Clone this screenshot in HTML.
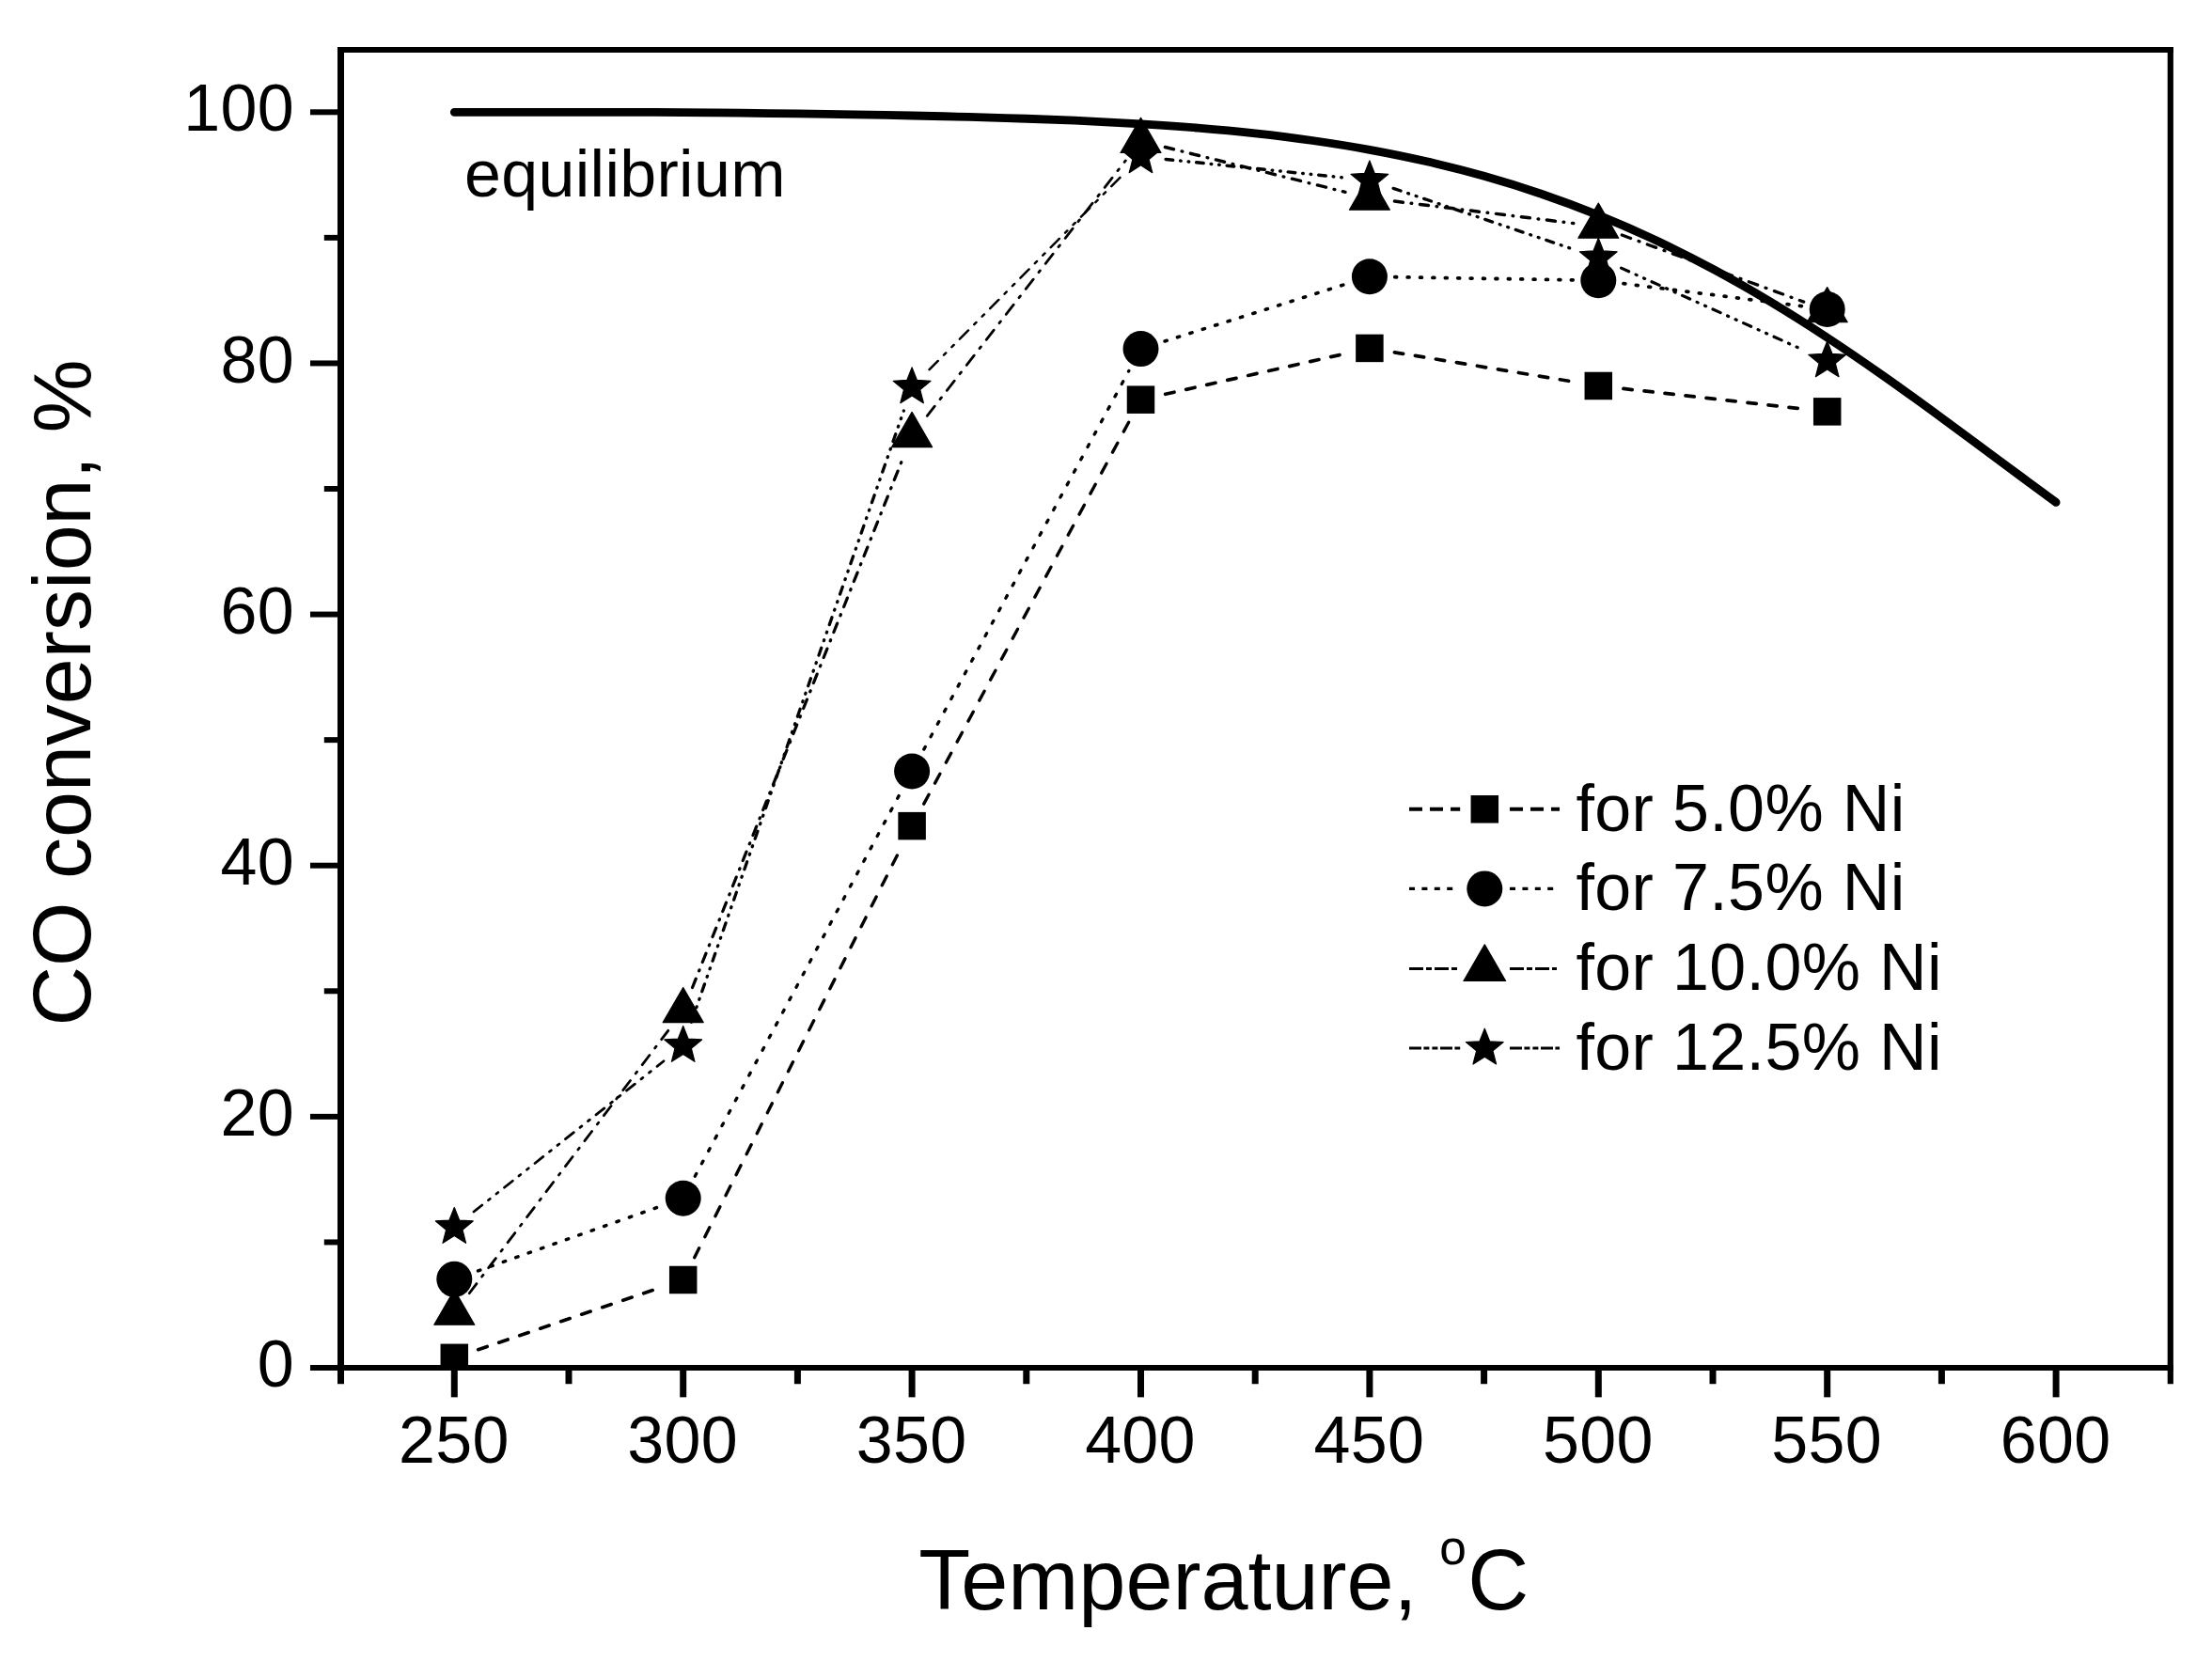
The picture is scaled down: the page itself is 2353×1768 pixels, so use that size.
<!DOCTYPE html>
<html lang="en"><head><meta charset="utf-8"><title>CO conversion vs temperature</title>
<style>html,body{margin:0;padding:0;background:#fff;}body{width:2353px;height:1768px;overflow:hidden;}svg{display:block;}text{font-family:'Liberation Sans', sans-serif;fill:#000;}.m{stroke:#000;stroke-width:1.2px;stroke-linejoin:round;}</style></head><body>
<svg width="2353" height="1768" viewBox="0 0 2353 1768">
<rect width="2353" height="1768" fill="#fff"/>
<defs><clipPath id="plot"><rect x="362.5" y="52.95" width="1946.3" height="1405.1"/></clipPath></defs>
<g fill="none" stroke="#000" stroke-linecap="butt">
<line x1="359" y1="52.95" x2="2311.9" y2="52.95" stroke-width="6.1"/>
<line x1="359" y1="1455" x2="2311.9" y2="1455" stroke-width="6.1"/>
<line x1="362.5" y1="49.9" x2="362.5" y2="1458.05" stroke-width="7"/>
<line x1="2308.8" y1="49.9" x2="2308.8" y2="1458.05" stroke-width="6.2"/>
</g>
<g stroke="#000" stroke-linecap="butt" fill="none">
<line x1="330" y1="1455" x2="360" y2="1455" stroke-width="6"/>
<line x1="344.8" y1="1321.43" x2="360" y2="1321.43" stroke-width="6"/>
<line x1="330" y1="1187.86" x2="360" y2="1187.86" stroke-width="6"/>
<line x1="344.8" y1="1054.29" x2="360" y2="1054.29" stroke-width="6"/>
<line x1="330" y1="920.72" x2="360" y2="920.72" stroke-width="6"/>
<line x1="344.8" y1="787.15" x2="360" y2="787.15" stroke-width="6"/>
<line x1="330" y1="653.58" x2="360" y2="653.58" stroke-width="6"/>
<line x1="344.8" y1="520.01" x2="360" y2="520.01" stroke-width="6"/>
<line x1="330" y1="386.44" x2="360" y2="386.44" stroke-width="6"/>
<line x1="344.8" y1="252.87" x2="360" y2="252.87" stroke-width="6"/>
<line x1="330" y1="119.3" x2="360" y2="119.3" stroke-width="6"/>
<line x1="362.5" y1="1457.05" x2="362.5" y2="1472.25" stroke-width="7"/>
<line x1="483.3" y1="1457.05" x2="483.3" y2="1486.35" stroke-width="7"/>
<line x1="605" y1="1457.05" x2="605" y2="1472.25" stroke-width="7"/>
<line x1="726.7" y1="1457.05" x2="726.7" y2="1486.35" stroke-width="7"/>
<line x1="848.4" y1="1457.05" x2="848.4" y2="1472.25" stroke-width="7"/>
<line x1="970.1" y1="1457.05" x2="970.1" y2="1486.35" stroke-width="7"/>
<line x1="1091.8" y1="1457.05" x2="1091.8" y2="1472.25" stroke-width="7"/>
<line x1="1213.5" y1="1457.05" x2="1213.5" y2="1486.35" stroke-width="7"/>
<line x1="1335.2" y1="1457.05" x2="1335.2" y2="1472.25" stroke-width="7"/>
<line x1="1456.9" y1="1457.05" x2="1456.9" y2="1486.35" stroke-width="7"/>
<line x1="1578.6" y1="1457.05" x2="1578.6" y2="1472.25" stroke-width="7"/>
<line x1="1700.3" y1="1457.05" x2="1700.3" y2="1486.35" stroke-width="7"/>
<line x1="1822" y1="1457.05" x2="1822" y2="1472.25" stroke-width="7"/>
<line x1="1943.7" y1="1457.05" x2="1943.7" y2="1486.35" stroke-width="7"/>
<line x1="2065.4" y1="1457.05" x2="2065.4" y2="1472.25" stroke-width="7"/>
<line x1="2187.1" y1="1457.05" x2="2187.1" y2="1486.35" stroke-width="7"/>
<line x1="2308.8" y1="1457.05" x2="2308.8" y2="1472.25" stroke-width="6.2"/>
</g>
<g font-size="70" letter-spacing="0.3">
<text x="313" y="1475.1" text-anchor="end">0</text>
<text x="313" y="1207.96" text-anchor="end">20</text>
<text x="313" y="940.82" text-anchor="end">40</text>
<text x="313" y="673.68" text-anchor="end">60</text>
<text x="313" y="406.54" text-anchor="end">80</text>
<text x="313" y="139.4" text-anchor="end">100</text>
<text x="482.8" y="1555.8" text-anchor="middle">250</text>
<text x="726.2" y="1555.8" text-anchor="middle">300</text>
<text x="969.6" y="1555.8" text-anchor="middle">350</text>
<text x="1213" y="1555.8" text-anchor="middle">400</text>
<text x="1456.4" y="1555.8" text-anchor="middle">450</text>
<text x="1699.8" y="1555.8" text-anchor="middle">500</text>
<text x="1943.2" y="1555.8" text-anchor="middle">550</text>
<text x="2186.6" y="1555.8" text-anchor="middle">600</text>
</g>
<text font-size="90" x="977.3" y="1712.3">Temperature,</text>
<text font-size="51.5" x="1531.2" y="1663.5">o</text>
<text font-size="90" x="1561.2" y="1712.3">C</text>
<text font-size="88" transform="translate(95.8 1091.5) rotate(-90)">CO conversion, %</text>
<path d="M483.3 119.34 C493.44 119.33 523.87 119.31 544.15 119.3 C564.43 119.29 584.72 119.3 605 119.3 C625.28 119.3 645.57 119.26 665.85 119.3 C686.13 119.34 706.42 119.42 726.7 119.56 C746.98 119.7 767.27 119.93 787.55 120.15 C807.83 120.38 828.12 120.64 848.4 120.92 C868.68 121.21 888.97 121.52 909.25 121.87 C929.53 122.21 949.82 122.58 970.1 123.01 C990.38 123.44 1010.67 123.89 1030.95 124.42 C1051.23 124.96 1071.52 125.54 1091.8 126.24 C1112.08 126.94 1132.37 127.69 1152.65 128.62 C1172.93 129.56 1193.22 130.58 1213.5 131.83 C1233.78 133.08 1254.07 134.46 1274.35 136.14 C1294.63 137.82 1314.92 139.68 1335.2 141.9 C1355.48 144.13 1375.77 146.59 1396.05 149.49 C1416.33 152.4 1436.62 155.6 1456.9 159.31 C1477.18 163.03 1497.47 167.12 1517.75 171.78 C1538.03 176.45 1558.32 181.56 1578.6 187.3 C1598.88 193.04 1619.17 199.3 1639.45 206.23 C1659.73 213.16 1680.02 220.68 1700.3 228.89 C1720.58 237.1 1740.87 245.95 1761.15 255.5 C1781.43 265.04 1801.72 275.26 1822 286.14 C1842.28 297.02 1862.57 308.6 1882.85 320.75 C1903.13 332.91 1923.42 345.77 1943.7 359.07 C1963.98 372.37 1984.27 386.34 2004.55 400.57 C2024.83 414.81 2045.12 429.62 2065.4 444.46 C2085.68 459.29 2105.97 474.58 2126.25 489.57 C2146.53 504.55 2176.96 526.9 2187.1 534.36" fill="none" stroke="#000" stroke-width="8.8" stroke-linecap="round" stroke-linejoin="round"/>
<text font-size="70" letter-spacing="0.3" x="494" y="209">equilibrium</text>
<g fill="none" stroke="#000" stroke-width="3.3" stroke-linecap="round">
<line x1="508.67" y1="1435.68" x2="701.33" y2="1370.13" stroke-width="3.6" stroke-dasharray="10.03 13.21"/>
<line x1="738.72" y1="1337.66" x2="958.08" y2="902.48" stroke-width="3.39" stroke-dasharray="11.05 13.58"/>
<line x1="982.71" y1="855.14" x2="1200.89" y2="448.68" stroke-width="3.35" stroke-dasharray="11.29 13.68"/>
<line x1="1239.7" y1="419.28" x2="1430.7" y2="376.31" stroke-width="3.71" stroke-dasharray="9.52 13.03"/>
<line x1="1483.42" y1="374.78" x2="1673.78" y2="406.12" stroke-width="3.75" stroke-dasharray="9.32 12.97"/>
<line x1="1727.02" y1="413.49" x2="1916.98" y2="434.86" stroke-width="3.78" stroke-dasharray="9.21 12.93"/>
<line x1="508.56" y1="1351.89" x2="701.44" y2="1283.62" stroke-width="3.58" stroke-dasharray="2.36 11.86"/>
<line x1="739.3" y1="1251.17" x2="957.5" y2="844.05" stroke-width="3.35" stroke-dasharray="3 12.2"/>
<line x1="982.8" y1="797.09" x2="1200.8" y2="394.53" stroke-width="3.34" stroke-dasharray="3.03 12.21"/>
<line x1="1239.07" y1="363.01" x2="1431.33" y2="302.34" stroke-width="3.62" stroke-dasharray="2.25 11.8"/>
<line x1="1483.8" y1="294.72" x2="1673.4" y2="297.84" stroke-width="3.8" stroke-dasharray="1.8 11.6"/>
<line x1="1726.97" y1="301.65" x2="1917.03" y2="325.64" stroke-width="3.77" stroke-dasharray="1.87 11.63"/>
<line x1="499.23" y1="1375.72" x2="710.77" y2="1096.31" stroke-width="2.79" stroke-dasharray="12.76 9.44 2.23 9.44"/>
<line x1="736.54" y1="1050.52" x2="960.26" y2="487.98" stroke-width="3.25" stroke-dasharray="10.09 8.96 1.05 8.96"/>
<line x1="986.29" y1="442.41" x2="1197.31" y2="170.85" stroke-width="2.76" stroke-dasharray="12.94 9.48 2.3 9.48"/>
<line x1="1239.4" y1="156.49" x2="1431" y2="204.33" stroke-width="3.4" stroke-dasharray="9.38 8.86 0.73 8.86"/>
<line x1="1483.44" y1="214.07" x2="1673.76" y2="237.57" stroke-width="3.47" stroke-dasharray="9.02 8.81 0.56 8.81"/>
<line x1="1725.31" y1="250.04" x2="1918.69" y2="321.15" stroke-width="3.28" stroke-dasharray="9.93 8.93 0.98 8.93"/>
<line x1="503.96" y1="1289.02" x2="706.04" y2="1128.78" stroke-width="2.74" stroke-dasharray="11.3 8.49 2.36 8.49 2.36 8.49"/>
<line x1="735.45" y1="1087.22" x2="961.35" y2="437" stroke-width="3.31" stroke-dasharray="8.34 8.07 0.93 8.07 0.93 8.07"/>
<line x1="988.59" y1="393.2" x2="1195.01" y2="185.34" stroke-width="2.48" stroke-dasharray="13.02 8.83 3.15 8.83 3.15 8.83"/>
<line x1="1240.1" y1="169.46" x2="1430.3" y2="189.08" stroke-width="3.48" stroke-dasharray="7.58 8.01 0.54 8.01 0.54 8.01"/>
<line x1="1482.15" y1="200.38" x2="1675.05" y2="265.69" stroke-width="3.32" stroke-dasharray="8.3 8.07 0.91 8.07 0.91 8.07"/>
<line x1="1724.55" y1="285.15" x2="1919.45" y2="372.85" stroke-width="3.19" stroke-dasharray="8.87 8.13 1.19 8.13 1.19 8.13"/>
</g>
<g fill="#000" stroke="none" clip-path="url(#plot)">
<rect x="468.55" y="1429.56" width="29.5" height="29.5"/>
<rect x="711.95" y="1346.75" width="29.5" height="29.5"/>
<rect x="955.35" y="863.9" width="29.5" height="29.5"/>
<rect x="1198.75" y="410.43" width="29.5" height="29.5"/>
<rect x="1442.15" y="355.66" width="29.5" height="29.5"/>
<rect x="1685.55" y="395.73" width="29.5" height="29.5"/>
<rect x="1928.95" y="423.11" width="29.5" height="29.5"/>
<circle cx="483.3" cy="1360.83" r="19"/>
<circle cx="726.7" cy="1274.68" r="19"/>
<circle cx="970.1" cy="820.54" r="19"/>
<circle cx="1213.5" cy="371.08" r="19"/>
<circle cx="1456.9" cy="294.28" r="19"/>
<circle cx="1700.3" cy="298.28" r="19"/>
<circle cx="1943.7" cy="329" r="19"/>
<polygon class="m" points="483.3,1371.94 504.8,1409.18 461.8,1409.18"/>
<polygon class="m" points="726.7,1050.43 748.2,1087.67 705.2,1087.67"/>
<polygon class="m" points="970.1,438.42 991.6,475.66 948.6,475.66"/>
<polygon class="m" points="1213.5,125.2 1235,162.43 1192,162.43"/>
<polygon class="m" points="1456.9,185.97 1478.4,223.21 1435.4,223.21"/>
<polygon class="m" points="1700.3,216.02 1721.8,253.26 1678.8,253.26"/>
<polygon class="m" points="1943.7,305.51 1965.2,342.75 1922.2,342.75"/>
<polygon class="m" points="483.3,1284.5 488.65,1298.04 503.18,1298.94 491.95,1308.21 495.58,1322.31 483.3,1314.5 471.02,1322.31 474.65,1308.21 463.42,1298.94 477.95,1298.04"/>
<polygon class="m" points="726.7,1091.49 732.05,1105.03 746.58,1105.93 735.35,1115.21 738.98,1129.3 726.7,1121.49 714.42,1129.3 718.05,1115.21 706.82,1105.93 721.35,1105.03"/>
<polygon class="m" points="970.1,390.92 975.45,404.46 989.98,405.36 978.75,414.63 982.38,428.73 970.1,420.92 957.82,428.73 961.45,414.63 950.22,405.36 964.75,404.46"/>
<polygon class="m" points="1213.5,145.82 1218.85,159.36 1233.38,160.26 1222.15,169.53 1225.78,183.63 1213.5,175.82 1201.22,183.63 1204.85,169.53 1193.62,160.26 1208.15,159.36"/>
<polygon class="m" points="1456.9,170.93 1462.25,184.47 1476.78,185.37 1465.55,194.64 1469.18,208.74 1456.9,200.93 1444.62,208.74 1448.25,194.64 1437.02,185.37 1451.55,184.47"/>
<polygon class="m" points="1700.3,253.34 1705.65,266.88 1720.18,267.78 1708.95,277.05 1712.58,291.15 1700.3,283.34 1688.02,291.15 1691.65,277.05 1680.42,267.78 1694.95,266.88"/>
<polygon class="m" points="1943.7,362.87 1949.05,376.41 1963.58,377.31 1952.35,386.58 1955.98,400.68 1943.7,392.87 1931.42,400.68 1935.05,386.58 1923.82,377.31 1938.35,376.41"/>
</g>
<g fill="none" stroke="#000" stroke-linecap="butt">
<line x1="1499" y1="860.8" x2="1553.2" y2="860.8" stroke-width="4" stroke-dasharray="14 8"/>
<line x1="1606" y1="860.8" x2="1659" y2="860.8" stroke-width="4" stroke-dasharray="14 8"/>
<line x1="1499" y1="945.4" x2="1545.5" y2="945.4" stroke-width="3.2" stroke-dasharray="6 7.4"/>
<line x1="1606" y1="945.4" x2="1652.5" y2="945.4" stroke-width="3.2" stroke-dasharray="6 7.4"/>
<line x1="1499" y1="1030.6" x2="1550" y2="1030.6" stroke-width="3" stroke-dasharray="15 3 6 3"/>
<line x1="1606" y1="1030.6" x2="1656" y2="1030.6" stroke-width="3" stroke-dasharray="15 3 6 3"/>
<line x1="1499" y1="1115.1" x2="1553.2" y2="1115.1" stroke-width="3" stroke-dasharray="13 2.4 6 3 6 2.6"/>
<line x1="1606" y1="1115.1" x2="1659" y2="1115.1" stroke-width="3" stroke-dasharray="13 2.4 6 3 6 2.6"/>
</g>
<g fill="#000" stroke="none">
<rect x="1564.55" y="846.05" width="29.5" height="29.5"/>
<circle cx="1579.3" cy="945.4" r="19"/>
<polygon class="m" points="1579.3,1004.78 1601.66,1043.51 1556.94,1043.51"/>
<polygon class="m" points="1579.3,1094.2 1584.65,1107.74 1599.18,1108.64 1587.95,1117.91 1591.58,1132.01 1579.3,1124.2 1567.02,1132.01 1570.65,1117.91 1559.42,1108.64 1573.95,1107.74"/>
</g>
<g font-size="70" letter-spacing="0.35">
<text x="1676.5" y="883.9">for 5.0% Ni</text>
<text x="1676.5" y="967.8">for 7.5% Ni</text>
<text x="1676.5" y="1053.2">for 10.0% Ni</text>
<text x="1676.5" y="1137.7">for 12.5% Ni</text>
</g>
</svg></body></html>
